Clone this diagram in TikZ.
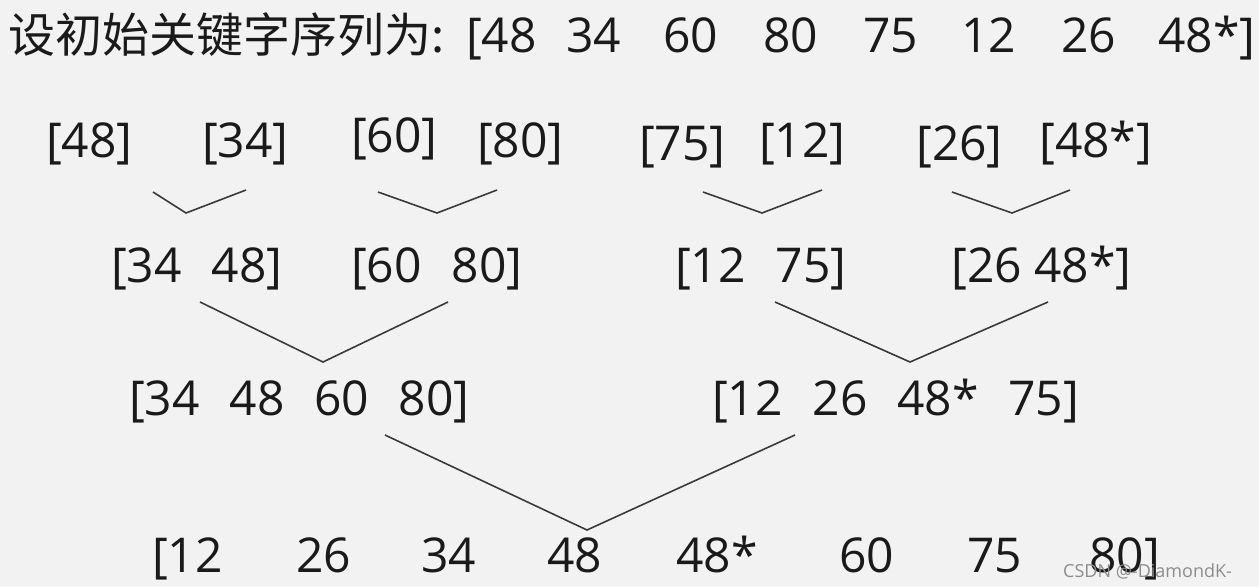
\documentclass[tikz,border=0pt]{standalone}
\usepackage{fontspec}
\setmainfont{Open Sans}
\newfontfamily\cjk{Noto Sans CJK SC}
\usepackage{tikz}

\definecolor{paper}{HTML}{F2F2F2}
\definecolor{ink}{HTML}{1A1A1A}
\definecolor{wline}{HTML}{3A3A3A}
\newcommand{\gp}{\hspace{0.62em}}

\tikzset{
  num/.style={anchor=base west, inner sep=0pt, text=ink, font=\fontsize{48}{54}\selectfont},
  vline/.style={draw=wline, line width=1.6pt, line join=miter}
}

\begin{document}
\begin{tikzpicture}[x=1pt, y=-1pt]
			\fill[paper] (0,0) rectangle (1259,587);
			\useasboundingbox (0,0) rectangle (1259,587);
			% initial sequence
			\node[num, font=\fontsize{47}{54}\cjk] (t0) at (8,52) {设初始关键字序列为:};
			\node[num] (t1) at (466,52) {[48};
			\node[num] (t2) at (566,52) {34};
			\node[num] (t3) at (663,52) {60};
			\node[num] (t4) at (763,52) {80};
			\node[num] (t5) at (863,52) {75};
			\node[num] (t6) at (961,52) {12};
			\node[num] (t7) at (1061,52) {26};
			\node[num] (t8) at (1158,52) {48*]};
			% single items
			\node[num] (a1) at (46,157) {[48]};
			\node[num] (a2) at (202,157) {[34]};
			\node[num] (a3) at (351,152) {[60]};
			\node[num] (a4) at (477,157) {[80]};
			\node[num] (a5) at (639,160) {[75]};
			\node[num] (a6) at (759,157) {[12]};
			\node[num] (a7) at (916,160) {[26]};
			\node[num] (a8) at (1039,157) {[48*]};
			% pairs
			\node[num] (b1) at (111,282) {[34\gp 48]};
			\node[num] (b2) at (351,282) {[60\gp 80]};
			\node[num] (b3) at (675,282) {[12\gp 75]};
			\node[num] (b4) at (951,282) {[26 48*]};
			% fours
			\node[num] (c1) at (129,415) {[34\gp 48\gp 60\gp 80]};
			\node[num] (c2) at (712,415) {[12\gp 26\gp 48*\gp 75]};
			% result
			\node[num] (d1) at (152,572) {[12};
			\node[num] (d2) at (296,572) {26};
			\node[num] (d3) at (421,572) {34};
			\node[num] (d4) at (547,572) {48};
			\node[num] (d5) at (676,572) {48*};
			\node[num] (d6) at (839,572) {60};
			\node[num] (d7) at (967,572) {75};
			\node[num] (d8) at (1089,572) {80]};
			% merge marks
			\coordinate (m1) at (186,213);
			\coordinate (m2) at (437,213);
			\coordinate (m3) at (762,213);
			\coordinate (m4) at (1012,213);
			\coordinate (n1) at (323,362);
			\coordinate (n2) at (910,362);
			\coordinate (p1) at (587,530);
			\draw[vline] (153,192) -- (m1) -- (246,190);
			\draw[vline] (378,192) -- (m2) -- (497,190);
			\draw[vline] (703,192) -- (m3) -- (822,190);
			\draw[vline] (952,192) -- (m4) -- (1070,190);
			\draw[vline] (200,302) -- (n1) -- (448,302);
			\draw[vline] (775,302) -- (n2) -- (1048,302);
			\draw[vline] (385,435) -- (p1) -- (795,435);
			% watermark
			\node[anchor=base west, inner sep=0pt, text=black!45, font=\fontsize{18}{20}\selectfont] (wm) at (1063,577) {CSDN @-DiamondK-};
		\end{tikzpicture}
\end{document}
